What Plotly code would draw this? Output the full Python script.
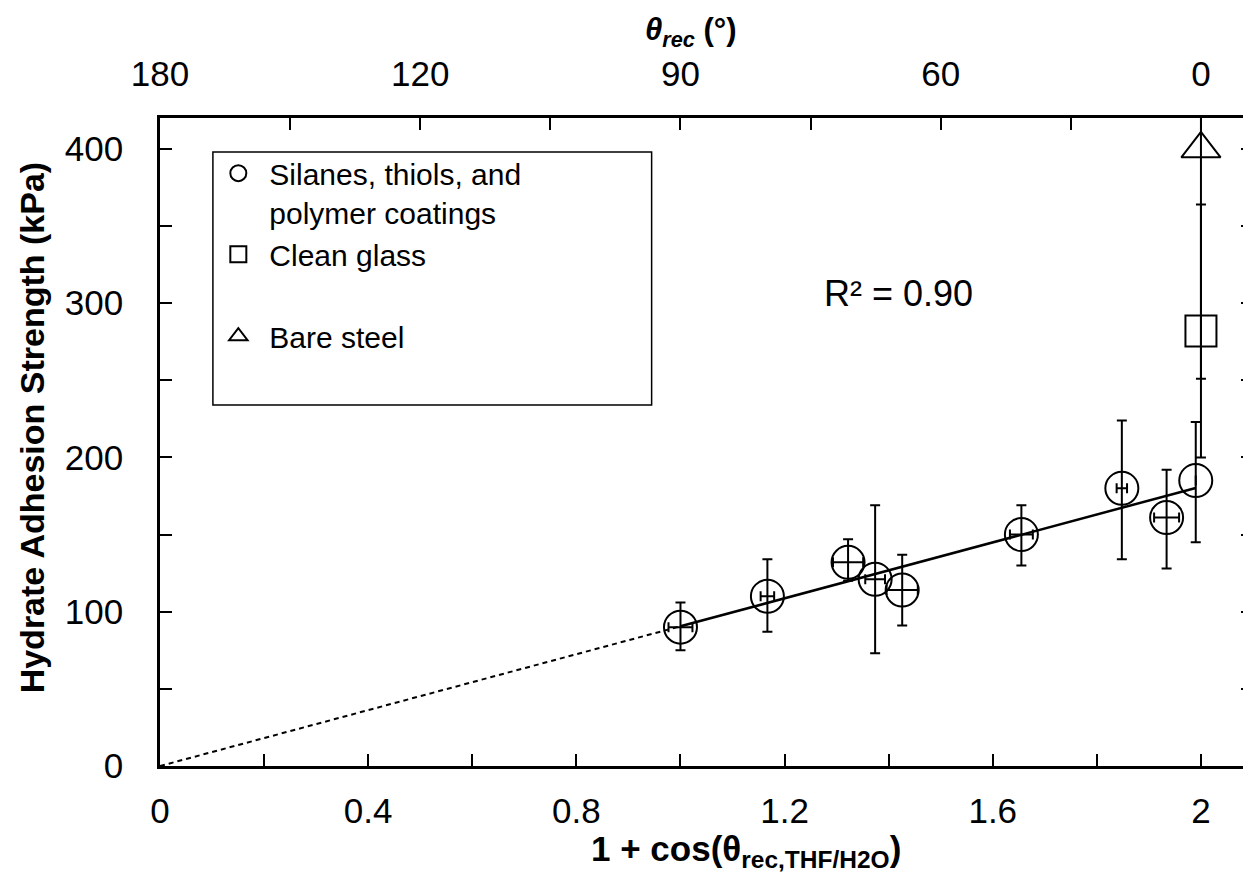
import numpy as np
import plotly.graph_objects as go

# ---------------- data ----------------
# Silanes, thiols, and polymer coatings
coat_x = [1.000, 1.167, 1.322, 1.374, 1.426, 1.655, 1.848, 1.934, 1.990]
coat_y = [90, 110, 132, 121, 114, 150, 180, 161, 185]
coat_y_hi = [106, 134, 147, 169, 137, 169, 224, 192, 223]
coat_y_lo = [75, 87, 120, 73, 91, 130, 134, 128, 145]
coat_x_err = [0.023, 0.013, 0.029, 0.019, 0.030, 0.022, 0.010, 0.024, 0.0]

# Clean glass
glass_x = [2.0]
glass_y = [282]
glass_y_hi = [364]
glass_y_lo = [200]

# Bare steel
steel_x = [2.0]
steel_y = [400]
steel_y_hi = [549]
steel_y_lo = [251]

# axis ticks
bottom_tickvals = [0, 0.4, 0.8, 1.2, 1.6, 2.0]
bottom_ticktext = ["0", "0.4", "0.8", "1.2", "1.6", "2"]
bottom_minor = [0.2, 0.6, 1.0, 1.4, 1.8]
top_tickvals = [0, 0.5, 1.0, 1.5, 2.0]
top_ticktext = ["180", "120", "90", "60", "0"]
top_minor = [0.25, 0.75, 1.25, 1.75]
y_tickvals = [0, 100, 200, 300, 400]
y_minor = [50, 150, 250, 350]

names = ["Silanes, thiols, and<br>polymer coatings", "Clean glass", "Bare steel"]
r2_text = "R² = 0.90"
x_title = "<b>1 + cos(θ<sub>rec,THF/H2O</sub>)</b>"
top_title = "<b><i>θ<sub>rec</sub></i> (°)</b>"
y_title = "<b>Hydrate Adhesion Strength (kPa)</b>"

# fit through the origin (least squares on the coating data)
cx = np.array(coat_x)
cy = np.array(coat_y)
slope = float((cx * cy).sum() / (cx * cx).sum())
x_dash = np.array([0.0, cx.min()])
x_solid = np.array([cx.min(), cx.max()])

FONT = "Arial, 'Liberation Sans', Helvetica, sans-serif"
BLACK = "black"

fig = go.Figure()

fig.add_trace(go.Scatter(
    x=x_dash, y=slope * x_dash, mode="lines",
    line=dict(color=BLACK, width=2, dash="5px,4px"),
    showlegend=False, hoverinfo="skip"))
fig.add_trace(go.Scatter(
    x=x_solid, y=slope * x_solid, mode="lines",
    line=dict(color=BLACK, width=2.5),
    showlegend=False, hoverinfo="skip"))


def err(y, hi, lo):
    return dict(type="data", symmetric=False,
                array=[h - v for h, v in zip(hi, y)],
                arrayminus=[v - l for v, l in zip(y, lo)],
                color=BLACK, thickness=2, width=5)


fig.add_trace(go.Scatter(
    x=coat_x, y=coat_y, mode="markers", name=names[0],
    legendgroup="a",
    marker=dict(symbol="circle-open", size=33, color=BLACK, line=dict(width=2, color=BLACK)),
    error_y=err(coat_y, coat_y_hi, coat_y_lo),
    error_x=dict(type="data", array=coat_x_err, color=BLACK, thickness=2, width=5)))

fig.add_trace(go.Scatter(
    x=glass_x, y=glass_y, mode="markers", name=names[1],
    legendgroup="a",
    marker=dict(symbol="square-open", size=31, color=BLACK, line=dict(width=2, color=BLACK)),
    error_y=err(glass_y, glass_y_hi, glass_y_lo)))

fig.add_trace(go.Scatter(
    x=steel_x, y=steel_y, mode="markers", name=names[2],
    legendgroup="b",
    marker=dict(symbol="triangle-up-open", size=34, color=BLACK, line=dict(width=2, color=BLACK)),
    error_y=err(steel_y, steel_y_hi, steel_y_lo)))

# invisible trace to anchor the top (angle) axis
fig.add_trace(go.Scatter(x=[0, 2.1], y=[0, 0], xaxis="x2", mode="markers",
                         marker=dict(opacity=0), showlegend=False, hoverinfo="skip"))

tickfont = dict(family=FONT, size=35, color=BLACK)
axis_common = dict(showline=True, linecolor=BLACK, linewidth=2.5, ticks="inside",
                   ticklen=12, tickwidth=1.5, tickcolor=BLACK, showgrid=False,
                   zeroline=False, tickfont=tickfont)
minor_common = dict(ticks="inside", ticklen=12, tickwidth=1.5, tickcolor=BLACK, showgrid=False)

fig.update_layout(
    width=1251, height=888,
    margin=dict(l=152, r=3, t=110, b=130),
    paper_bgcolor="white", plot_bgcolor="white",
    font=dict(family=FONT, color=BLACK),
    xaxis=dict(range=[0, 2.1], tickvals=bottom_tickvals, ticktext=bottom_ticktext,
               minor=dict(tickvals=bottom_minor, **minor_common),
               ticklabelstandoff=12, **axis_common),
    xaxis2=dict(range=[0, 2.1], overlaying="x", side="top", anchor="y",
                tickvals=top_tickvals, ticktext=top_ticktext,
                minor=dict(tickvals=top_minor, **minor_common),
                ticklabelstandoff=15, **axis_common),
    yaxis=dict(range=[0, 420], tickvals=y_tickvals, mirror="ticks",
               minor=dict(tickvals=y_minor, **minor_common),
               ticklabelstandoff=27, **axis_common),
    legend=dict(x=0.0433, y=0.955, xanchor="left", yanchor="top",
                bgcolor="rgba(0,0,0,0)", borderwidth=0,
                font=dict(family=FONT, size=30, color=BLACK),
                traceorder="grouped", tracegroupgap=40, valign="top",
                itemwidth=52, itemsizing="trace"),
    shapes=[dict(type="rect", xref="paper", yref="paper",
                 x0=0.0484, x1=0.4498, y0=0.5571, y1=0.9475,
                 line=dict(color=BLACK, width=1.5), fillcolor="rgba(0,0,0,0)")],
    annotations=[
        dict(text=r2_text, x=1.418, y=306.5, xref="x", yref="y", showarrow=False,
             font=dict(family=FONT, size=36, color=BLACK)),
        dict(text=x_title, x=0.5365, y=-0.131, xref="paper", yref="paper",
             xanchor="center", yanchor="middle", showarrow=False,
             font=dict(family=FONT, size=35, color=BLACK)),
        dict(text=top_title, x=0.4854, y=1.1667, xref="paper", yref="paper",
             xanchor="center", yanchor="top", showarrow=False,
             font=dict(family=FONT, size=31, color=BLACK)),
        dict(text=y_title, x=-0.1168, y=0.5216, xref="paper", yref="paper",
             xanchor="center", yanchor="middle", textangle=-90, showarrow=False,
             font=dict(family=FONT, size=34, color=BLACK)),
    ],
)

fig.write_html("out.html")
